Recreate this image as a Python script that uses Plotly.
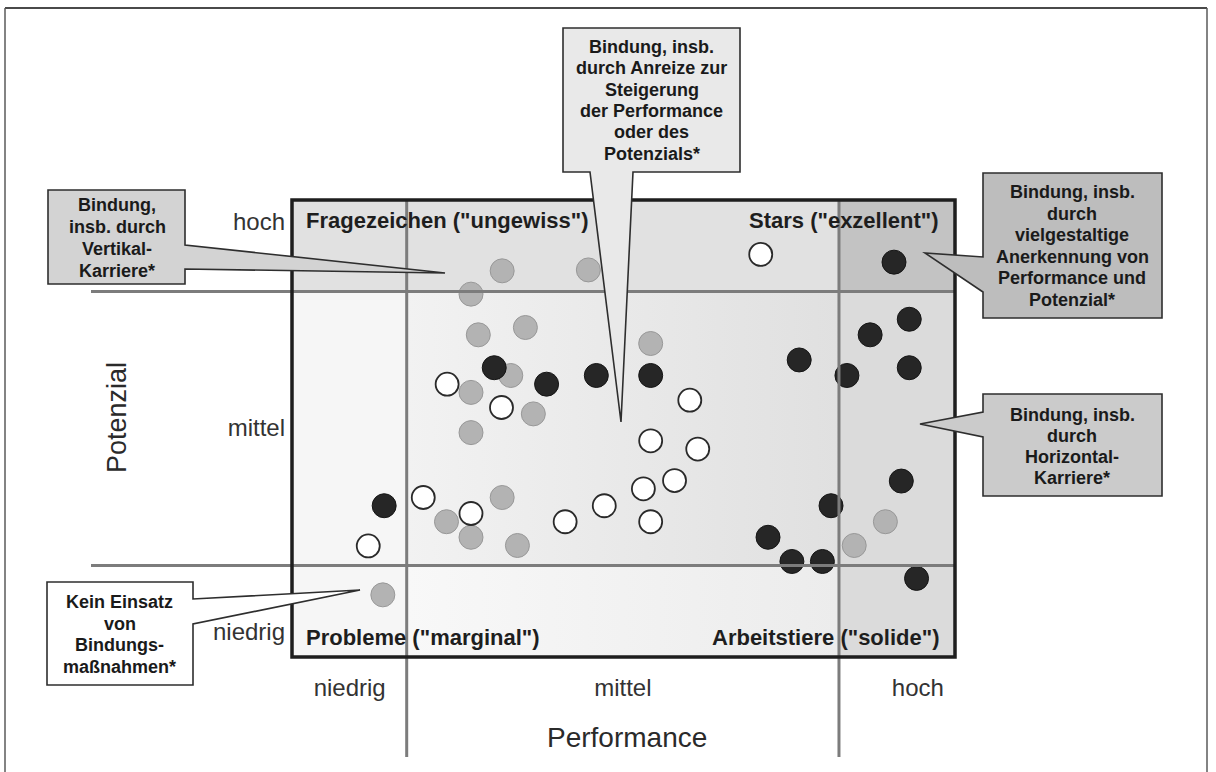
import plotly.graph_objects as go

# ---------------------------------------------------------------------------
# Data: Performance (x) and Potenzial (y) scores on a 0-100 scale
# ---------------------------------------------------------------------------
levels = ["niedrig", "mittel", "hoch"]

dark_perf = [90.8, 93.1, 87.2, 76.5, 83.7, 93.1, 30.5, 38.4, 45.9, 54.1,
             91.9, 81.3, 71.8, 75.4, 80.0, 94.2, 13.9]
dark_pot = [86.4, 73.9, 70.5, 65.0, 61.6, 63.3, 63.3, 59.7, 61.6, 61.6,
            38.5, 33.1, 26.2, 20.9, 20.9, 17.2, 33.1]

grey_perf = [31.7, 44.7, 27.0, 28.1, 35.2, 54.1, 33.0, 27.0, 36.4, 27.0,
             31.7, 23.3, 27.0, 34.0, 13.7, 84.8, 89.5]
grey_pot = [84.5, 84.7, 79.4, 70.5, 72.1, 68.6, 61.6, 57.9, 53.2, 49.1,
            34.9, 29.6, 26.2, 24.4, 13.6, 24.4, 29.6]

open_perf = [70.7, 23.4, 31.6, 60.0, 54.1, 61.2, 57.7, 53.0, 47.1, 41.2,
             54.1, 27.0, 19.8, 11.5]
open_pot = [88.1, 59.7, 54.6, 56.2, 47.3, 45.5, 38.6, 36.8, 33.1, 29.6,
            29.6, 31.4, 34.9, 24.3]

# Boundaries between "niedrig", "mittel" and "hoch"
perf_cuts = [17.3, 82.5]
pot_cuts = [20.0, 80.0]

# Retention measures per segment
callout_texts = [
    ["Bindung, insb.", "durch Anreize zur", "Steigerung", "der Performance",
     "oder des", "Potenzials*"],
    ["Bindung,", "insb. durch", "Vertikal-", "Karriere*"],
    ["Bindung, insb.", "durch", "vielgestaltige", "Anerkennung von",
     "Performance und", "Potenzial*"],
    ["Bindung, insb.", "durch", "Horizontal-", "Karriere*"],
    ["Kein Einsatz", "von", "Bindungs-", "maßnahmen*"],
]

# ---------------------------------------------------------------------------
# Page geometry
# ---------------------------------------------------------------------------
W, H = 1216, 772
BOX_L, BOX_R, BOX_T, BOX_B = 292, 955, 200, 657
FONT = "Liberation Sans, Arial, Helvetica, sans-serif"


def fx(px):
    return (px - BOX_L) / (BOX_R - BOX_L)


def fy(py):
    return (BOX_B - py) / (BOX_B - BOX_T)


def path(points):
    pts = [f"{fx(x):.5f},{fy(y):.5f}" for x, y in points]
    return "M" + " L".join(pts) + " Z"


fig = go.Figure()

# Background gradients of the middle column
fig.add_trace(go.Scatter(
    x=[perf_cuts[0], perf_cuts[1], perf_cuts[1], perf_cuts[0], perf_cuts[0]],
    y=[pot_cuts[0], pot_cuts[0], pot_cuts[1], pot_cuts[1], pot_cuts[0]],
    mode="lines", line=dict(width=0), fill="toself",
    fillgradient=dict(type="horizontal",
                      colorscale=[[0, "#f2f2f2"], [1, "#e0e0e0"]]),
    hoverinfo="skip", showlegend=False))
fig.add_trace(go.Scatter(
    x=[perf_cuts[0], perf_cuts[1], perf_cuts[1], perf_cuts[0], perf_cuts[0]],
    y=[0, 0, pot_cuts[0], pot_cuts[0], 0],
    mode="lines", line=dict(width=0), fill="toself",
    fillgradient=dict(type="horizontal",
                      colorscale=[[0, "#f8f8f8"], [1, "#ececec"]]),
    hoverinfo="skip", showlegend=False))

# Employees
fig.add_trace(go.Scatter(
    x=grey_perf, y=grey_pot, mode="markers", name="grau",
    marker=dict(size=24, color="#b3b3b3", line=dict(color="#989898", width=1)),
    showlegend=False))
fig.add_trace(go.Scatter(
    x=open_perf, y=open_pot, mode="markers", name="offen",
    marker=dict(size=23, color="#ffffff", line=dict(color="#2a2a2a", width=1.8)),
    showlegend=False))
fig.add_trace(go.Scatter(
    x=dark_perf, y=dark_pot, mode="markers", name="schwarz",
    marker=dict(size=24, color="#262626", line=dict(color="#151515", width=1)),
    showlegend=False))

shapes = []

# Cell shading inside the portfolio box
shapes.append(dict(type="rect", xref="x", yref="y", x0=0, x1=100, y0=0, y1=100,
                   fillcolor="#f6f6f6", line=dict(width=0), layer="below"))
shapes.append(dict(type="rect", xref="x", yref="y", x0=0, x1=perf_cuts[1],
                   y0=pot_cuts[1], y1=100, fillcolor="#e1e1e1",
                   line=dict(width=0), layer="below"))
shapes.append(dict(type="rect", xref="x", yref="y", x0=perf_cuts[1], x1=100,
                   y0=0, y1=pot_cuts[1], fillcolor="#dbdbdb",
                   line=dict(width=0), layer="below"))
shapes.append(dict(type="rect", xref="x", yref="y", x0=perf_cuts[1], x1=100,
                   y0=pot_cuts[1], y1=100, fillcolor="#c3c3c3",
                   line=dict(width=0), layer="below"))

# Separating lines (drawn over the markers)
for c in pot_cuts:
    shapes.append(dict(type="line", xref="paper", yref="paper",
                       x0=fx(91), x1=1, y0=c / 100, y1=c / 100,
                       line=dict(color="#7c7c7c", width=3), layer="above"))
for c in perf_cuts:
    shapes.append(dict(type="line", xref="paper", yref="paper",
                       x0=c / 100, x1=c / 100, y0=1, y1=fy(757),
                       line=dict(color="#7c7c7c", width=3), layer="above"))

# Portfolio frame
shapes.append(dict(type="rect", xref="paper", yref="paper", x0=0, x1=1, y0=0, y1=1,
                   line=dict(color="#1e1e1e", width=3.5), layer="above"))

# Page frame: top, left and right edges
shapes.append(dict(type="line", xref="paper", yref="paper",
                   x0=fx(5), x1=fx(1207), y0=fy(8), y1=fy(8),
                   line=dict(color="#4a4a4a", width=2.2), layer="above"))
for xe in (5, 1207):
    shapes.append(dict(type="line", xref="paper", yref="paper",
                       x0=fx(xe), x1=fx(xe), y0=fy(8), y1=fy(772),
                       line=dict(color="#5a5a5a", width=1.5), layer="above"))

# Callouts (box + pointer) with the centre of their text block
callouts = [
    dict(pts=[(563, 28), (740, 28), (740, 172), (633, 172), (621, 422),
              (590, 172), (563, 172)], fill="#e9e9e9", cx=651.5, y0=47, dy=21.3),
    dict(pts=[(48, 190), (185, 190), (185, 245), (445, 273), (185, 269),
              (185, 284), (48, 284)], fill="#d3d3d3", cx=117, y0=205, dy=22),
    dict(pts=[(983, 173), (1162, 173), (1162, 318), (983, 318), (983, 292),
              (925, 253), (983, 257)], fill="#bdbdbd", cx=1072, y0=192, dy=21.6),
    dict(pts=[(983, 394), (1162, 394), (1162, 496), (983, 496), (983, 437),
              (920, 424), (983, 412)], fill="#cbcbcb", cx=1072, y0=415, dy=21),
    dict(pts=[(47, 582), (193, 582), (193, 599), (360, 590), (193, 624),
              (193, 685), (47, 685)], fill="#ffffff", cx=120, y0=602, dy=21.7),
]
for c in callouts:
    shapes.append(dict(type="path", xref="paper", yref="paper", path=path(c["pts"]),
                       fillcolor=c["fill"], line=dict(color="#2e2e2e", width=1.6),
                       layer="above"))

annotations = []


def note(text, px, py, size, bold=False, color="#1a1a1a", xanchor="center",
         angle=0):
    annotations.append(dict(
        text=f"<b>{text}</b>" if bold else text,
        xref="paper", yref="paper", x=fx(px), y=fy(py),
        xanchor=xanchor, yanchor="middle", align="center", showarrow=False,
        textangle=angle, font=dict(family=FONT, size=size, color=color)))


# Callout texts, one annotation per line
for c, lines in zip(callouts, callout_texts):
    for i, line in enumerate(lines):
        note(line, c["cx"], c["y0"] + i * c["dy"], 18, bold=True)

# Quadrant names
note('Fragezeichen ("ungewiss")', 304, 220, 22, bold=True, color="#1e1e1e",
     xanchor="left")
note('Stars ("exzellent")', 941, 220, 22, bold=True, color="#1e1e1e",
     xanchor="right")
note('Probleme ("marginal")', 304, 637, 22, bold=True, color="#1e1e1e",
     xanchor="left")
note('Arbeitstiere ("solide")', 941, 637, 22, bold=True, color="#1e1e1e",
     xanchor="right")

# Axis titles
note("Performance", 627, 737, 28, color="#2a2a2a")
note("Potenzial", 117, 418, 27, color="#2a2a2a", angle=-90)

fig.update_layout(
    width=W, height=H, autosize=False,
    margin=dict(l=BOX_L, r=W - BOX_R, t=BOX_T, b=H - BOX_B, pad=0),
    paper_bgcolor="#ffffff", plot_bgcolor="rgba(0,0,0,0)",
    shapes=shapes, annotations=annotations, showlegend=False,
    xaxis=dict(range=[0, 100], showgrid=False, zeroline=False, showline=False,
               ticks="", tickmode="array", tickvals=[8.7, 49.9, 94.4],
               ticktext=levels, ticklabelstandoff=14,
               tickfont=dict(family=FONT, size=24, color="#333333"),
               fixedrange=True),
    yaxis=dict(range=[0, 100], showgrid=False, zeroline=False, showline=False,
               ticks="", tickmode="array", tickvals=[5.5, 50.1, 95.2],
               ticktext=levels, ticklabelstandoff=6,
               tickfont=dict(family=FONT, size=24, color="#333333"),
               fixedrange=True),
)

fig.write_html("out.html")
